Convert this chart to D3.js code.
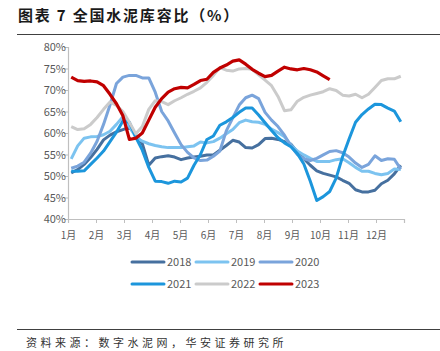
<!DOCTYPE html>
<html>
<head>
<meta charset="utf-8">
<script src="https://cdn.jsdelivr.net/npm/d3@7"></script>
<style>
  body { margin: 0; background: #fff; }
  text { font-family: "Noto Sans CJK SC", "Liberation Sans", sans-serif; }
</style>
</head>
<body>
<svg id="chart"></svg>
<script>
// weekly inventory ratio (%)
const years = ['2018', '2019', '2020', '2021', '2022', '2023'];
const colors = ['#46709f', '#7cc3f0', '#7aa4db', '#1c96dc', '#cbcbcb', '#c00000'];

const v2018 = [50.7, 51.5, 52.7, 54.3, 56.2, 58.4, 59.5, 60.3, 60.8, 61.3, 59.5, 57.5, 52.5, 54.2, 54.5, 54.7, 54.4, 53.8, 54.2, 54.4, 54.6, 54.9, 54.9, 56.0, 57.1, 58.3, 57.9, 56.6, 56.5, 57.3, 58.7, 58.8, 58.5, 58.0, 57.4, 55.6, 54.0, 52.5, 51.2, 50.6, 50.2, 49.8, 49.0, 48.3, 46.8, 46.3, 46.3, 46.7, 48.2, 49.0, 50.5, 52.5];
const v2019 = [54.0, 57.0, 58.8, 59.1, 59.2, 59.6, 60.4, 62.0, 63.8, 61.5, 59.0, 58.1, 57.5, 57.1, 56.8, 56.6, 56.6, 56.6, 56.8, 57.0, 57.9, 57.7, 58.0, 58.8, 59.8, 60.8, 62.4, 63.0, 62.6, 62.5, 62.0, 60.9, 60.1, 59.1, 57.2, 55.8, 54.9, 54.1, 53.4, 53.4, 53.4, 53.8, 54.0, 53.1, 52.0, 51.1, 51.1, 50.6, 50.3, 50.6, 51.6, 51.5];
const v2020 = [51.8, 52.3, 53.2, 55.3, 58.1, 62.0, 66.5, 71.5, 73.0, 73.4, 73.4, 72.8, 72.8, 69.5, 65.0, 62.8, 60.0, 57.3, 55.5, 54.2, 53.6, 53.7, 54.6, 55.8, 60.5, 63.5, 66.5, 68.2, 68.8, 68.0, 64.8, 63.0, 61.5, 59.5, 57.0, 55.0, 54.0, 53.6, 54.1, 54.9, 55.7, 55.9, 55.4, 54.4, 53.0, 52.0, 52.7, 54.7, 53.6, 54.0, 53.9, 51.6];
const v2021 = [51.1, 51.1, 51.2, 52.7, 54.2, 55.8, 58.0, 60.2, 62.8, 62.5, 59.0, 56.0, 52.0, 48.8, 48.7, 48.3, 48.8, 48.6, 49.5, 52.5, 55.0, 58.5, 59.3, 61.8, 62.6, 63.6, 64.8, 65.8, 65.8, 64.2, 62.4, 60.6, 58.9, 57.7, 56.8, 55.2, 52.8, 48.8, 44.3, 45.2, 46.4, 49.5, 54.5, 58.6, 62.5, 64.3, 65.6, 66.7, 66.6, 65.8, 65.1, 62.6];
const v2022 = [61.5, 60.8, 61.0, 62.0, 63.6, 65.5, 67.2, 66.4, 65.0, 62.5, 59.8, 61.5, 65.5, 67.5, 67.3, 66.6, 67.5, 68.2, 69.0, 69.7, 70.5, 71.8, 73.4, 75.2, 74.6, 74.4, 74.9, 75.0, 74.8, 73.5, 72.3, 71.0, 68.5, 65.2, 65.4, 67.4, 68.3, 68.8, 69.2, 69.6, 70.3, 69.9, 68.8, 68.6, 69.0, 68.2, 69.0, 70.6, 72.2, 72.6, 72.6, 73.2];
const v2023 = [73.0, 72.2, 72.0, 72.1, 71.9, 71.0, 69.0, 66.8, 64.0, 58.5, 58.8, 60.0, 63.0, 66.0, 68.0, 69.5, 70.3, 70.6, 70.5, 71.3, 72.2, 72.5, 74.1, 75.1, 75.8, 76.7, 77.0, 76.0, 74.8, 73.9, 73.1, 73.4, 74.4, 75.3, 74.9, 74.7, 75.0, 74.7, 74.2, 73.3, 72.4];

const months = ['1月', '2月', '3月', '4月', '5月', '6月', '7月', '8月', '9月', '10月', '11月', '12月'];
const yTicks = [40, 45, 50, 55, 60, 65, 70, 75, 80];

const series = [v2018, v2019, v2020, v2021, v2022, v2023];

const W = 440, H = 351;
const margin = { top: 47, left: 68, right: 36, bottom: 132 };
const width = W - margin.left - margin.right;
const height = H - margin.top - margin.bottom;

const svg = d3.select('#chart').attr('width', W).attr('height', H);

// title
svg.append('text')
  .attr('x', 18).attr('y', 21)
  .attr('font-size', 15).attr('font-weight', 'bold')
  .attr('letter-spacing', 1.8)
  .attr('fill', '#1a1a1a')
  .text('图表 7 全国水泥库容比（%）');

svg.append('line')
  .attr('x1', 17).attr('x2', W).attr('y1', 34.5).attr('y2', 34.5)
  .attr('stroke', '#404040').attr('stroke-width', 1.2);

const chart = svg.append('g').attr('transform', `translate(${margin.left},${margin.top})`);

// x in months, weekly points
const x = d3.scaleLinear().domain([0, 12]).range([0, width]);
const y = d3.scaleLinear().domain([40, 80]).range([height, 0]);
const weekX = i => x((i + 0.5) * 12 / 52);

const xAxis = d3.axisBottom(x)
  .tickValues(d3.range(0, 13))
  .tickFormat(d => months[d] || '')
  .tickSize(4);

const gx = chart.append('g')
  .attr('transform', `translate(0,${height})`)
  .call(xAxis);
gx.select('.domain').attr('stroke', '#bfbfbf').attr('stroke-width', 1.2);
gx.selectAll('.tick line').attr('stroke', '#bfbfbf');
gx.selectAll('.tick text').attr('fill', '#595959').attr('font-size', 10).attr('dy', '1.3em');

const yAxis = d3.axisLeft(y)
  .tickValues(yTicks)
  .tickFormat(d => d + '%')
  .tickSize(4);

const gy = chart.append('g').call(yAxis);
gy.select('.domain').attr('stroke', '#bfbfbf').attr('stroke-width', 1.2);
gy.selectAll('.tick line').attr('stroke', '#bfbfbf');
gy.selectAll('.tick text')
  .attr('fill', '#595959').attr('font-size', 11)
  .attr('font-family', '"Liberation Sans", Arial, sans-serif')
  .attr('x', -2);

const line = d3.line()
  .x((d, i) => weekX(i))
  .y(d => y(d));

chart.selectAll('.series')
  .data(series)
  .join('path')
  .attr('class', 'series')
  .attr('d', d => line(d))
  .attr('fill', 'none')
  .attr('stroke', (d, i) => colors[i])
  .attr('stroke-width', (d, i) => i === 5 ? 3.2 : 3)
  .attr('stroke-linejoin', 'round');

// legend
const legend = svg.append('g');
years.forEach((yr, i) => {
  const lx = 132 + (i % 3) * 64;
  const ly = 262 + Math.floor(i / 3) * 22;
  legend.append('line')
    .attr('x1', lx).attr('x2', lx + 32)
    .attr('y1', ly).attr('y2', ly)
    .attr('stroke', colors[i]).attr('stroke-width', 3)
    .attr('stroke-linecap', 'round');
  legend.append('text')
    .attr('x', lx + 35).attr('y', ly + 4)
    .attr('font-size', 11)
    .attr('font-family', '"Liberation Sans", Arial, sans-serif')
    .attr('fill', '#595959')
    .text(yr);
});

svg.append('line')
  .attr('x1', 17).attr('x2', W).attr('y1', 329.5).attr('y2', 329.5)
  .attr('stroke', '#404040').attr('stroke-width', 1.2);

svg.append('text')
  .attr('x', 26).attr('y', 347)
  .attr('font-size', 11)
  .attr('letter-spacing', 3.5)
  .attr('fill', '#333')
  .text('资料来源：数字水泥网，华安证券研究所');
</script>
</body>
</html>
